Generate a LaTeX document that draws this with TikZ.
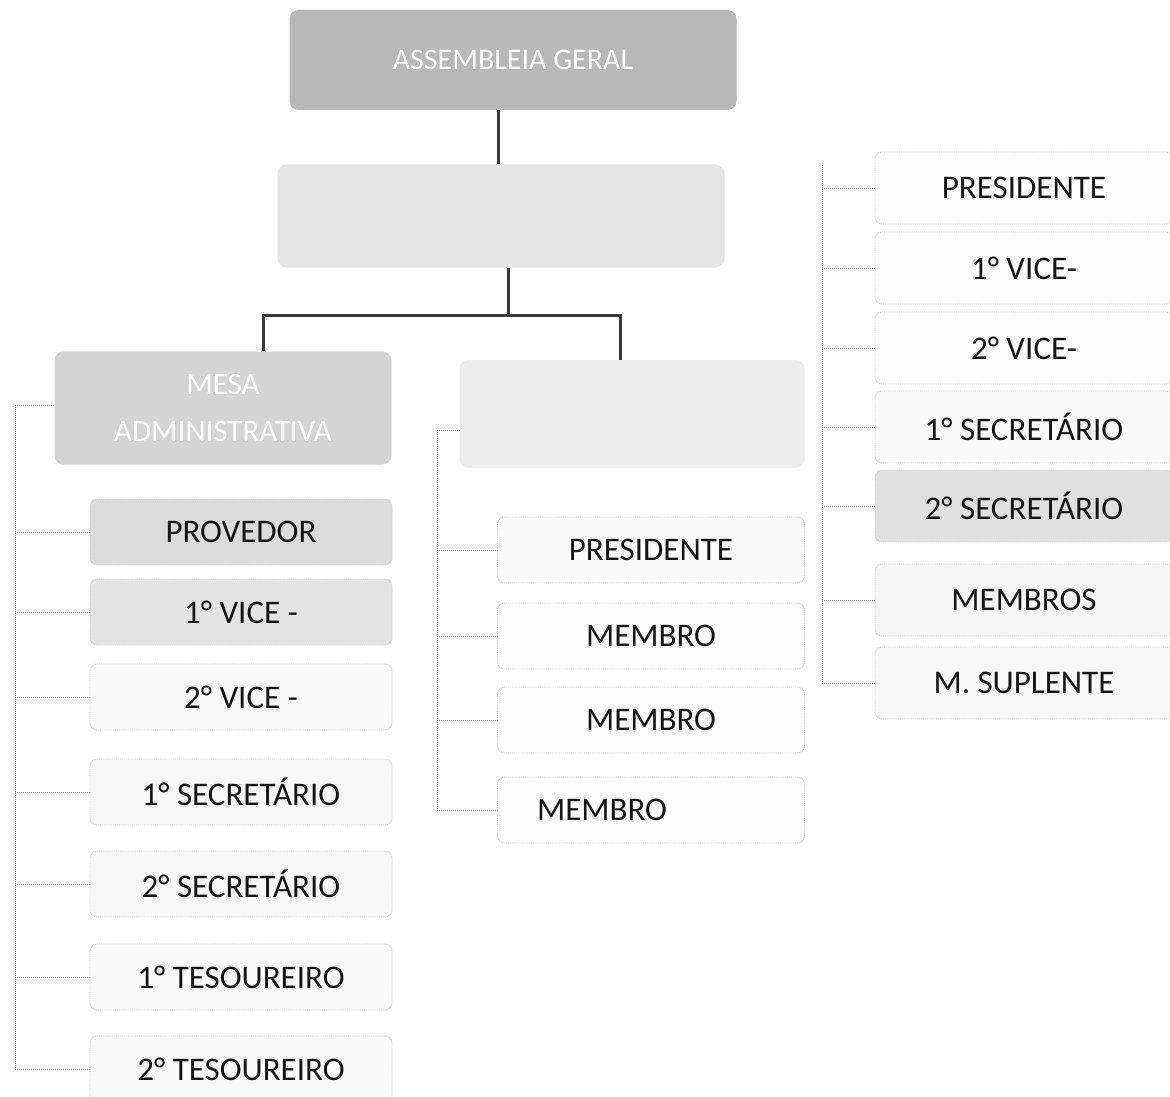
\documentclass[tikz,border=0pt]{standalone}
\usepackage{fontspec}
\setmainfont{Carlito}
\begin{document}
\begin{tikzpicture}[x=1pt,y=-1pt,
  lab/.style={font=\fontsize{33}{40}\selectfont, text=black!92},
  headbox/.style={rounded corners=9pt, inner sep=0pt},
  subbox/.style={rounded corners=7pt, draw=black!18, densely dotted, line width=0.9pt, inner sep=0pt, lab},
  lbox/.style={subbox, minimum width=302pt, minimum height=66pt},
  mbox/.style={subbox, minimum width=307pt, minimum height=66pt},
  rbox/.style={subbox, minimum width=298pt, minimum height=72pt},
  trunk/.style={draw=black!78, line width=3pt},
  bracket/.style={draw=black!30, densely dotted, line width=1pt}]
\useasboundingbox[fill=white] (0,0) rectangle (1170,1097);

% upper level boxes
\node[headbox, fill=black!28, minimum width=447pt, minimum height=100pt, text=white,
      font=\fontsize{30}{36}\selectfont] (ag) at (513,60) {ASSEMBLEIA GERAL};
\node[headbox, fill=black!10, minimum width=447pt, minimum height=103pt] (cd) at (501,216) {};
\node[headbox, fill=black!17, minimum width=337pt, minimum height=113pt, text=white,
      align=center, font=\fontsize{31}{47}\selectfont] (mesa) at (223,408) {MESA\\ADMINISTRATIVA};
\node[headbox, fill=black!7, minimum width=345pt, minimum height=108pt] (cf) at (632,414) {};

% trunk connectors
\coordinate (j1) at (498,0);
\draw[trunk] (ag.south -| j1) -- (cd.north -| j1);
\coordinate (j2) at (508,315);
\coordinate (cl) at (263,315);
\coordinate (cr) at (620,315);
\draw[trunk] (cd.south -| j2) -- (j2);
\draw[trunk] (mesa.north -| cl) -- (cl) -- (cr) -- (cf.north -| cr);

% left column (mesa administrativa)
\node[lbox, fill=black!14] (l1) at (241,532) {PROVEDOR};
\node[lbox, fill=black!11] (l2) at (241,612) {1° VICE -};
\node[lbox, fill=black!2]  (l3) at (241,697) {2° VICE -};
\node[lbox, fill=black!3]  (l4) at (241,792) {1° SECRETÁRIO};
\node[lbox, fill=black!3]  (l5) at (241,884) {2° SECRETÁRIO};
\node[lbox, fill=black!2]  (l6) at (241,977) {1° TESOUREIRO};
\node[lbox, fill=black!2]  (l7) at (241,1069) {2° TESOUREIRO};

\coordinate (lb) at (15,405);
\draw[bracket] (lb) -- (lb -| mesa.west);
\draw[bracket] (lb) -- (lb |- l7.west);
\foreach \c in {l1,l2,l3,l4,l5,l6,l7}
  \draw[bracket] (lb |- \c.west) -- (\c.west);

% middle column
\node[mbox, fill=black!2] (m1) at (651,550) {PRESIDENTE};
\node[mbox, fill=black!1] (m2) at (651,636) {MEMBRO};
\node[mbox, fill=black!1] (m3) at (651,720) {MEMBRO};
\node[mbox, fill=black!1] (m4) at (651,810) {};
\node[lab] (m4t) at (602,810) {MEMBRO};

\coordinate (mb) at (437,430);
\draw[bracket] (mb) -- (mb -| cf.west);
\draw[bracket] (mb) -- (mb |- m4.west);
\foreach \c in {m1,m2,m3,m4}
  \draw[bracket] (mb |- \c.west) -- (\c.west);

% right column
\node[rbox, fill=black!1]  (r1) at (1024,188) {PRESIDENTE};
\node[rbox, fill=black!1]  (r2) at (1024,268) {1° VICE-};
\node[rbox, fill=black!1]  (r3) at (1024,348) {2° VICE-};
\node[rbox, fill=black!2]  (r4) at (1024,427) {1° SECRETÁRIO};
\node[rbox, fill=black!12] (r5) at (1024,506) {2° SECRETÁRIO};
\node[rbox, fill=black!4]  (r6) at (1024,600) {MEMBROS};
\node[rbox, fill=black!3]  (r7) at (1024,683) {M. SUPLENTE};

\coordinate (rb) at (822,165);
\draw[bracket] (rb) -- (rb |- r7.west);
\foreach \c in {r1,r2,r3,r4,r5,r6,r7}
  \draw[bracket] (rb |- \c.west) -- (\c.west);
\end{tikzpicture}
\end{document}
